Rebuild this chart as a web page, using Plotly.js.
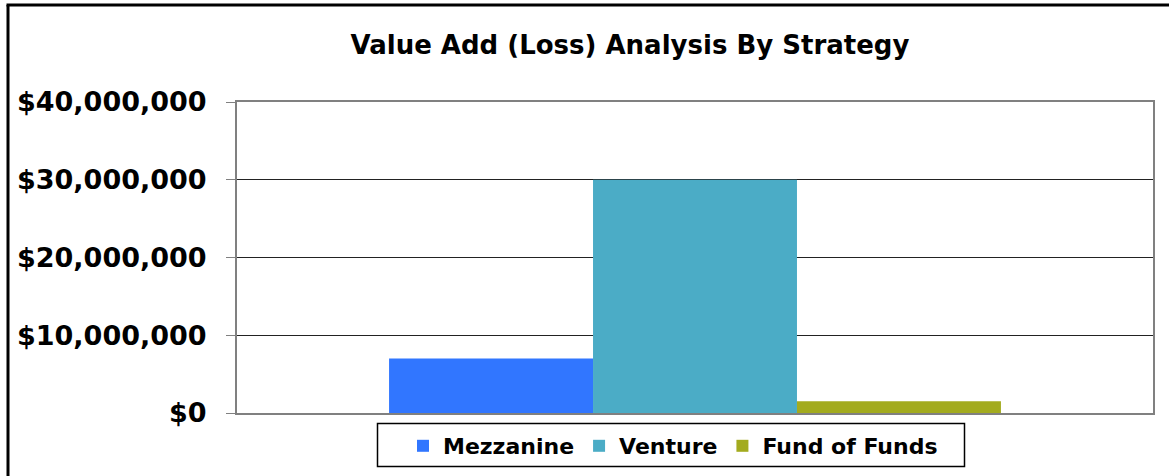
<!DOCTYPE html>
<html>
<head>
<meta charset="utf-8">
<script src="https://cdn.plot.ly/plotly-3.0.1.min.js"></script>
<style>html,body{margin:0;padding:0;background:#fff;}#chart{width:1169px;height:476px;}</style>
</head>
<body>
<div id="chart"></div>
<script>
const category = ["Value Add (Loss)"];
const seriesNames = ["Mezzanine", "Venture", "Fund of Funds"];
const mezzanine = [7000000];
const venture = [30000000];
const fundOfFunds = [1500000];
const yTickVals = [0, 10000000, 20000000, 30000000, 40000000];
const yTickText = ["$0", "$10,000,000", "$20,000,000", "$30,000,000", "$40,000,000"];
const colors = ["#3176FF", "#4BACC6", "#A3AB1E"];

const FONT = "DejaVu Sans, Verdana, sans-serif";
const seriesValues = [mezzanine, venture, fundOfFunds];
const traces = seriesNames.map((n, i) => ({
  type: "bar", name: n, x: category, y: seriesValues[i],
  marker: {color: colors[i], line: {width: 0}}, hoverinfo: "none"
}));

// pixel -> paper helpers for the decorative frame
const L = 237, T = 102, PW = 916, PH = 311;
const px = v => (v - L) / PW;
const py = v => (T + PH - v) / PH;

const layout = {
  width: 1169, height: 476,
  margin: {l: L, r: 1169 - L - PW, t: T, b: 476 - T - PH, autoexpand: false},
  paper_bgcolor: "#fff", plot_bgcolor: "#fff",
  barmode: "group", bargap: 0.332, bargroupgap: 0,
  title: {text: "<b>Value Add (Loss) Analysis By Strategy</b>", font: {family: FONT, size: 26, color: "#000"},
          xref: "paper", x: 0.429, xanchor: "center", yref: "container", y: 0.905, yanchor: "middle"},
  xaxis: {showticklabels: false, ticks: "", showgrid: false, zeroline: false,
          showline: true, linecolor: "#808080", linewidth: 2, mirror: true},
  yaxis: {range: [0, 40000000], tickvals: yTickVals, ticktext: yTickText,
          tickfont: {family: FONT, size: 27, color: "#000", weight: "bold"},
          ticks: "outside", ticklen: 9, tickcolor: "#808080", tickwidth: 1,
          ticklabelstandoff: 14,
          showgrid: true, gridcolor: "#222", gridwidth: 1, zeroline: false,
          showline: true, linecolor: "#808080", linewidth: 2, mirror: true},
  showlegend: true,
  legend: {orientation: "h", x: px(673), xanchor: "center", y: py(425), yanchor: "top",
           borderwidth: 0, bgcolor: "rgba(0,0,0,0)",
           font: {family: FONT, size: 22, color: "#000", weight: "bold"},
           itemwidth: 30, traceorder: "normal"},
  shapes: [
    {type: "rect", xref: "paper", yref: "paper", x0: px(377.5), x1: px(964.5), y0: py(423.5), y1: py(466.5),
     line: {color: "#000", width: 1.5}, fillcolor: "#fff", layer: "below"},
    {type: "line", xref: "paper", yref: "paper", x0: px(8), x1: px(8), y0: py(5), y1: py(480), line: {color: "#000", width: 3}},
    {type: "line", xref: "paper", yref: "paper", x0: px(6.5), x1: px(1175), y0: py(5), y1: py(5), line: {color: "#000", width: 3}}
  ]
};

Plotly.newPlot("chart", traces, layout, {staticPlot: true, displayModeBar: false});
</script>
</body>
</html>
